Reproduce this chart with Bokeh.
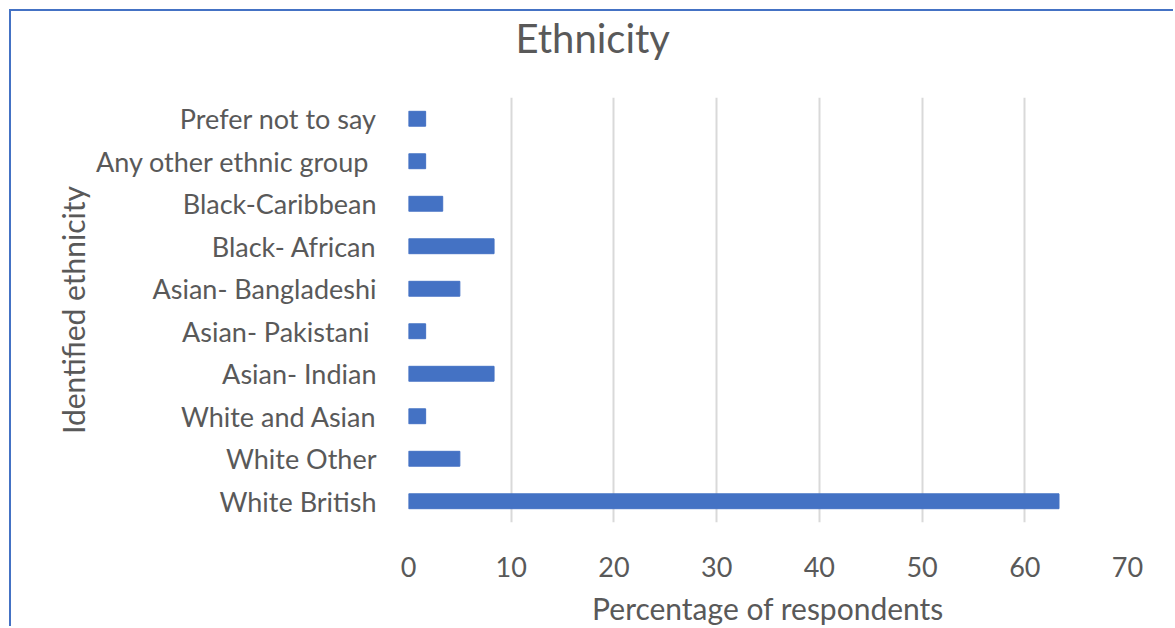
from bokeh.plotting import figure
from bokeh.models import Range1d, FactorRange, FixedTicker, Title
from bokeh.embed import file_html
from bokeh.resources import INLINE

# Categories from bottom to top of the chart
categories = [
    "White British",
    "White Other",
    "White and Asian",
    "Asian- Indian",
    "Asian- Pakistani ",
    "Asian- Bangladeshi",
    "Black- African",
    "Black-Caribbean",
    "Any other ethnic group ",
    "Prefer not to say",
]
# Percentage of respondents in each category
percentages = [63.33, 5.0, 1.67, 8.33, 1.67, 5.0, 8.33, 3.33, 1.67, 1.67]
x_ticks = [0, 10, 20, 30, 40, 50, 60, 70]

FONT = "Lato"
TEXT = "#595959"
BAR = "#4472C4"

p = figure(
    width=1164, height=617,
    y_range=FactorRange(factors=categories, range_padding=0),
    x_range=Range1d(0, 70),
    output_backend="svg", toolbar_location=None,
    min_border_left=397, min_border_right=48,
    min_border_top=86, min_border_bottom=102,
)
p.title = None
p.styles = {
    "margin-left": "9px", "margin-top": "9px",
    "border-left": "2px solid #4472C4", "border-top": "2px solid #4472C4",
}

# Empty panel between the frame and the title, then the title itself
p.add_layout(Title(text=" ", text_font_size="1px", standoff=33), "above")
p.add_layout(Title(
    text="Ethnicity", align="left", offset=107,
    text_font=FONT, text_font_size="40px", text_color=TEXT,
    text_font_style="normal", standoff=0,
), "above")

p.hbar(y=categories, left=0, right=percentages, height=0.35,
       fill_color=BAR, line_color=BAR, line_width=1)

p.outline_line_color = None
p.background_fill_color = "white"
p.border_fill_color = "white"

p.ygrid.grid_line_color = None
p.xgrid.grid_line_color = "#D9D9D9"
p.xgrid.grid_line_width = 2

p.xaxis.ticker = FixedTicker(ticks=x_ticks)
p.xaxis.axis_line_color = None
p.xaxis.major_tick_line_color = None
p.xaxis.minor_tick_line_color = None
p.xaxis.major_label_standoff = 28
p.xaxis.major_label_text_font = FONT
p.xaxis.major_label_text_font_size = "27px"
p.xaxis.major_label_text_color = TEXT
p.xaxis.axis_label = "Percentage of respondents"
p.xaxis.axis_label_text_font = FONT
p.xaxis.axis_label_text_font_size = "30px"
p.xaxis.axis_label_text_color = TEXT
p.xaxis.axis_label_text_font_style = "normal"
p.xaxis.axis_label_standoff = 10

p.yaxis.axis_line_color = None
p.yaxis.major_tick_line_color = None
p.yaxis.minor_tick_line_color = None
p.yaxis.major_label_standoff = 26
p.yaxis.major_label_text_font = FONT
p.yaxis.major_label_text_font_size = "27px"
p.yaxis.major_label_text_color = TEXT
p.yaxis.axis_label = "Identified ethnicity"
p.yaxis.axis_label_text_font = FONT
p.yaxis.axis_label_text_font_size = "30px"
p.yaxis.axis_label_text_color = TEXT
p.yaxis.axis_label_text_font_style = "normal"
p.yaxis.axis_label_standoff = 2

open("out.html", "w").write(file_html(p, INLINE))
